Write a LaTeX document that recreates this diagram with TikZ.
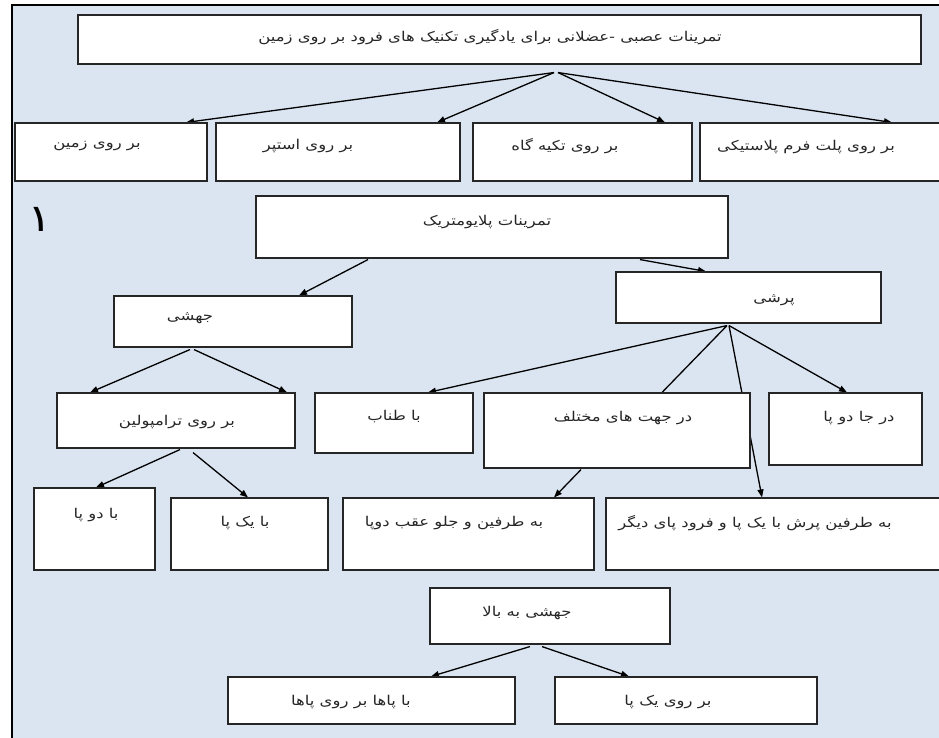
\documentclass[tikz,border=0pt]{standalone}
\usepackage{fontspec}
\newfontfamily\arabicfont[Script=Arabic,FakeStretch=1.22]{DejaVu Sans}
\TeXXeTstate=1
\usetikzlibrary{arrows.meta}
\pgfdeclarelayer{back}\pgfdeclarelayer{conn}
\pgfsetlayers{back,conn,main}
\definecolor{bgblue}{RGB}{219,229,241}
\newcommand\fbx[5]{\node[box,minimum width={(#4-#2)*1pt},minimum height={(#5-#3)*1pt}] (#1) at ({(#2+#4)/2},{(#3+#5)/2}) {};}
\begin{document}
\begin{tikzpicture}[x=1pt,y=-1pt,
  box/.style={draw=black!85,line width=1.1pt,fill=white,inner sep=0pt},
  txt/.style={inner sep=0pt,text=black!85,font=\arabicfont\fontsize{13.5}{15}\selectfont},
  arr/.style={line width=1.3pt,-{Triangle[length=8pt,width=6pt]}},
  ln/.style={line width=1.3pt}]
\useasboundingbox (0,0) rectangle (939,737);
\begin{pgfonlayer}{back}
\fill[white] (0,0) rectangle (939,737);
\fill[bgblue] (12,5) rectangle (945,745);
\draw[line width=2.5pt] (12,745) -- (12,5) -- (945,5);
\end{pgfonlayer}
% boxes
\fbx{T}{78}{15}{921}{64}
\fbx{A}{15}{123}{207}{181}
\fbx{B}{216}{123}{460}{181}
\fbx{C}{473}{123}{692}{181}
\fbx{D}{700}{123}{960}{181}
\fbx{P}{256}{196}{728}{258}
\fbx{J}{114}{296}{352}{347}
\fbx{R}{616}{272}{881}{323}
\fbx{TR}{57}{393}{295}{448}
\fbx{TN}{315}{393}{473}{453}
\fbx{DJ}{484}{393}{750}{468}
\fbx{DP}{769}{393}{922}{465}
\fbx{BD}{34}{488}{155}{570}
\fbx{BY}{171}{498}{328}{570}
\fbx{BT}{343}{498}{594}{570}
\fbx{BP}{606}{498}{960}{570}
\fbx{JB}{430}{588}{670}{644}
\fbx{PP}{228}{677}{515}{724}
\fbx{YP}{555}{677}{817}{724}
% texts
\node[txt] (tT) at (490,37) {\beginR تمرینات عصبی -عضلانی برای یادگیری تکنیک های فرود بر روی زمین\endR};
\node[txt] (tA) at (97,146) {\beginR بر روی زمین\endR};
\node[txt] (tB) at (308,146) {\beginR بر روی استپر\endR};
\node[txt] (tC) at (565,146) {\beginR بر روی تکیه گاه\endR};
\node[txt] (tD) at (806,147) {\beginR بر روی پلت فرم پلاستیکی\endR};
\node[txt] (tP) at (487,222) {\beginR تمرینات پلایومتریک\endR};
\node[txt] (tJ) at (190,318) {\beginR جهشی\endR};
\node[txt] (tR) at (774,300) {\beginR پرشی\endR};
\node[txt] (tTR) at (177,422) {\beginR بر روی ترامپولین\endR};
\node[txt] (tTN) at (394,417) {\beginR با طناب\endR};
\node[txt] (tDJ) at (623,418) {\beginR در جهت های مختلف\endR};
\node[txt] (tDP) at (859,418) {\beginR در جا دو پا\endR};
\node[txt] (tBD) at (96,515) {\beginR با دو پا\endR};
\node[txt] (tBY) at (245,523) {\beginR با یک پا\endR};
\node[txt] (tBT) at (454,523) {\beginR به طرفین و جلو عقب دوپا\endR};
\node[txt] (tBP) at (755,523) {\beginR به طرفین پرش با یک پا و فرود پای دیگر\endR};
\node[txt] (tJB) at (527,613) {\beginR جهشی به بالا\endR};
\node[txt] (tPP) at (351,702) {\beginR با پاها بر روی پاها\endR};
\node[txt] (tYP) at (668,702) {\beginR بر روی یک پا\endR};
\node[inner sep=0pt,font=\arabicfont\fontsize{38}{40}\selectfont] (one) at (40,219) {۱};
% connectors
\begin{pgfonlayer}{conn}
\draw[arr] ([yshift=-8pt]T.south -| 554,0) -- (A.north -| 186,0);
\draw[arr] ([yshift=-8pt]T.south -| 554,0) -- (B.north -| 437,0);
\draw[arr] ([yshift=-8pt]T.south -| 558,0) -- (C.north -| 665,0);
\draw[arr] ([yshift=-8pt]T.south -| 558,0) -- (D.north -| 892,0);
\draw[arr] ([yshift=-1pt]P.south -| 368,0) -- (J.north -| 299,0);
\draw[arr] ([yshift=-1pt]P.south -| 640,0) -- (R.north -| 706,0);
\draw[arr] ([yshift=-2pt]J.south -| 190,0) -- (TR.north -| 90,0);
\draw[arr] ([yshift=-2pt]J.south -| 194,0) -- (TR.north -| 287,0);
\draw[arr] ([yshift=-2pt]R.south -| 727,0) -- (TN.north -| 428,0);
\draw[ln] ([yshift=-2pt]R.south -| 727,0) -- (DJ.north -| 662,0);
\draw[arr] ([yshift=-2pt]R.south -| 729,0) -- (BP.north -| 762,0);
\draw[arr] ([yshift=-2pt]R.south -| 729,0) -- (DP.north -| 847,0);
\draw[arr] ([yshift=-1pt]TR.south -| 180,0) -- (BD.north -| 96,0);
\draw[arr] ([yshift=-4pt]TR.south -| 193,0) -- (BY.north -| 248,0);
\draw[arr] ([yshift=-1pt]DJ.south -| 581,0) -- (BT.north -| 554,0);
\draw[arr] ([yshift=-2pt]JB.south -| 530,0) -- (PP.north -| 431,0);
\draw[arr] ([yshift=-2pt]JB.south -| 542,0) -- (YP.north -| 629,0);
\end{pgfonlayer}
\end{tikzpicture}
\end{document}
